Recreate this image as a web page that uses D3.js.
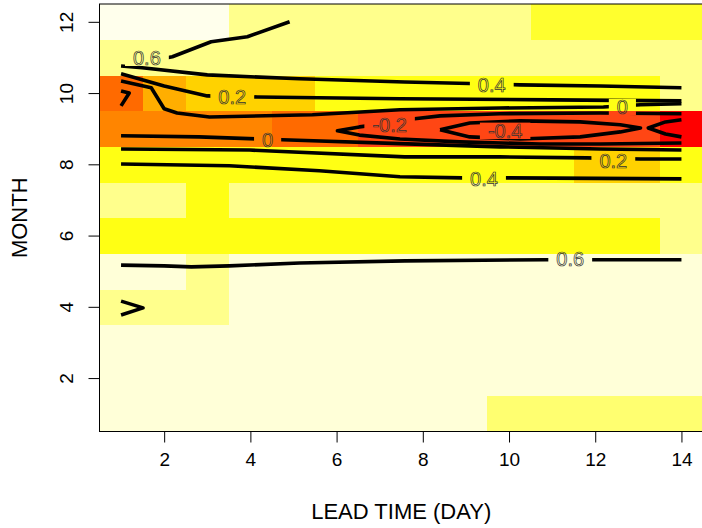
<!DOCTYPE html>
<html><head><meta charset="utf-8">
<script src="https://cdn.jsdelivr.net/npm/d3@7"></script>
<style>body{margin:0;background:#fff}svg{display:block}</style>
</head><body>
<svg id="c" width="702" height="528"></svg>
<script>
// ---------------- data ----------------
const leads  = [1,2,3,4,5,6,7,8,9,10,11,12,13,14];   // LEAD TIME (DAY)
const months = [1,2,3,4,5,6,7,8,9,10,11,12];         // MONTH
// cell values, one row per month (1..12), one column per lead day (1..14)
const zValues = [
  [0.74,0.75,0.76,0.75,0.74,0.75,0.76,0.75,0.74,0.56,0.55,0.57,0.56,0.55],
  [0.75,0.76,0.75,0.74,0.75,0.76,0.75,0.74,0.75,0.76,0.75,0.74,0.75,0.76],
  [0.76,0.75,0.74,0.75,0.76,0.75,0.74,0.75,0.76,0.75,0.74,0.75,0.76,0.75],
  [0.64,0.65,0.66,0.75,0.74,0.75,0.76,0.75,0.74,0.75,0.76,0.75,0.74,0.75],
  [0.74,0.75,0.65,0.76,0.75,0.74,0.75,0.76,0.75,0.74,0.75,0.76,0.75,0.74],
  [0.36,0.35,0.34,0.35,0.36,0.35,0.34,0.35,0.36,0.35,0.34,0.35,0.36,0.64],
  [0.65,0.66,0.36,0.65,0.64,0.65,0.66,0.65,0.64,0.65,0.66,0.65,0.64,0.65],
  [0.38,0.37,0.36,0.35,0.34,0.33,0.33,0.32,0.32,0.31,0.31,0.26,0.27,0.32],
  [-0.04,-0.05,-0.06,-0.07,-0.14,-0.16,-0.24,-0.26,-0.27,-0.28,-0.27,-0.26,-0.27,-0.45],
  [-0.15,0.05,0.24,0.25,0.26,0.32,0.33,0.34,0.35,0.36,0.36,0.37,0.37,0.64],
  [0.62,0.63,0.64,0.65,0.65,0.65,0.66,0.66,0.65,0.65,0.64,0.65,0.65,0.64],
  [0.84,0.85,0.86,0.65,0.64,0.65,0.66,0.65,0.64,0.65,0.46,0.45,0.44,0.45]
];
const colorBreaks = [-0.4,-0.3,-0.2,-0.1,0,0.1,0.2,0.3,0.4,0.5,0.6,0.7,0.8];
const colorRange  = ["#FF0000","#FF2400","#FF4614","#FF6A00","#FF8500","#FFAE00","#FFC400",
                     "#FFD200","#FFFF14","#FFFF2E","#FFFF70","#FFFF8C","#FFFFD8","#FFFFEC"];

// contour lines: [lead, month] points
const contour06a = [[1.95,10.96],[2.19,11.02],[3.09,11.44],[3.93,11.58],[4.91,12.0]];
const contour04a = [[1,10.76],[1.49,10.71],[3.0,10.51],[5.14,10.40],[7.58,10.31],[9.33,10.26],[10.26,10.23],[12.12,10.20],[14,10.15]];
const contour02a = [[1,10.54],[2.0,10.20],[3.0,9.92],[4.16,9.89],[7.47,9.84],[11.0,9.81],[14,9.78]];
const contour00a = [[1,10.34],[1.70,10.15],[2.0,9.56],[2.30,9.44],[3.05,9.33],[5.44,9.39],[7.47,9.53],[9.79,9.58],[12.19,9.61],[13.05,9.67],[14,9.70]];
const contourM02a = [[1,10.06],[1.19,10.0],[1,9.64]];
const contourM02b = [[14,9.42],[12.12,9.44],[9.79,9.42],[8.40,9.36],[7.81,9.28],[7.23,9.16],[6.53,9.05],[6.02,8.94],[6.53,8.82],[7.47,8.71],[8.86,8.63],[10.72,8.57],[12.12,8.57],[14,8.60]];
const contourM04a = [[8.40,8.97],[9.09,9.16],[10.26,9.22],[11.65,9.19],[12.58,9.11],[13.05,9.02],[12.58,8.91],[11.65,8.77],[10.26,8.71],[9.09,8.77],[8.40,8.97]];
const contourM04b = [[14,9.25],[13.63,9.19],[13.23,9.02],[13.63,8.85],[14,8.77]];
const contour00b = [[1,8.80],[2.81,8.77],[4.74,8.69],[7.47,8.58],[9.79,8.49],[12.12,8.43],[14,8.40]];
const contour02b = [[1,8.43],[3.98,8.40],[7.58,8.21],[9.79,8.21],[11.81,8.18],[13.05,8.15],[14,8.15]];
const contour04b = [[1,8.01],[3.51,7.96],[5.60,7.82],[7.47,7.65],[8.91,7.62],[10.02,7.62],[14,7.59]];
const contour06b = [[1,5.17],[2.0,5.15],[2.63,5.12],[3.51,5.15],[5.14,5.23],[7.58,5.29],[10.84,5.32],[14,5.32]];
const contour06c = [[1,4.16],[1.51,3.97],[1,3.77]];
const contourLines = [contour06a,contour04a,contour02a,contour00a,contourM02a,contourM02b,
                      contourM04a,contourM04b,contour00b,contour02b,contour04b,contour06b,contour06c];
// contour labels: [text, lead, month]
const contourLabels = [["0.6",1.60,10.99],["0.4",9.60,10.23],["0.2",3.58,9.89],["0",12.63,9.61],
  ["-0.2",7.23,9.11],["-0.4",9.91,8.94],["0",4.40,8.69],["0.2",12.42,8.10],["0.4",9.42,7.59],["0.6",11.42,5.34]];

const xTicks = [2,4,6,8,10,12,14];
const yTicks = [2,4,6,8,10,12];
const xTitle = "LEAD TIME (DAY)";
const yTitle = "MONTH";

// ---------------- drawing ----------------
const svg = d3.select("#c");
const x = d3.scaleLinear().domain([0.5,14.5]).range([99.5,703]);
const y = d3.scaleLinear().domain([0.5,12.5]).range([431.5,4]);
const color = d3.scaleThreshold().domain(colorBreaks).range(colorRange);

const cells = [];
months.forEach((m,i)=>leads.forEach((l,j)=>cells.push({l,m,v:zValues[i][j]})));
svg.append("g").selectAll("rect").data(cells).join("rect")
  .attr("x",d=>x(d.l-0.5)).attr("y",d=>y(d.m+0.5))
  .attr("width",d=>x(d.l+0.5)-x(d.l-0.5)+0.5).attr("height",d=>y(d.m-0.5)-y(d.m+0.5)+0.5)
  .attr("fill",d=>color(d.v)).attr("shape-rendering","crispEdges");

const defs = svg.append("defs");
const mask = defs.append("mask").attr("id","lblmask").attr("maskUnits","userSpaceOnUse")
  .attr("x",0).attr("y",0).attr("width",702).attr("height",528);
mask.append("rect").attr("x",0).attr("y",0).attr("width",702).attr("height",528).attr("fill","#fff");

const line = d3.line().x(d=>x(d[0])).y(d=>y(d[1]));
svg.append("g").attr("mask","url(#lblmask)").selectAll("path").data(contourLines).join("path")
  .attr("d",line).attr("fill","none").attr("stroke","#000").attr("stroke-width",3.6)
  .attr("stroke-linejoin","round");

const lblSize = 20;
const lbl = svg.append("g").selectAll("text").data(contourLabels).join("text")
  .attr("x",d=>x(d[1])).attr("y",d=>y(d[2]))
  .attr("text-anchor","middle").attr("dominant-baseline","central")
  .style("font-family","'Liberation Sans',Arial,sans-serif").style("font-size",lblSize+"px")
  .attr("fill","none").attr("stroke","#333").attr("stroke-width",0.7)
  .text(d=>d[0]);
lbl.each(function(d){
  const b=this.getBBox();
  const h=lblSize*0.72+2;
  mask.append("rect").attr("x",b.x-8).attr("y",y(d[2])-h/2).attr("width",b.width+16).attr("height",h).attr("fill","#000");
});

// box
svg.append("rect").attr("x",x(0.5)).attr("y",y(12.5)).attr("width",x(14.5)-x(0.5)).attr("height",y(0.5)-y(12.5))
  .attr("fill","none").attr("stroke","#000").attr("stroke-width",1);

const font="'Liberation Sans',Arial,sans-serif";
const gx = svg.append("g").attr("transform",`translate(0,${y(0.5)})`)
  .call(d3.axisBottom(x).tickValues(xTicks).tickSize(11).tickPadding(10).tickFormat(d3.format("d")));
gx.select(".domain").remove();
gx.selectAll("text").style("font-family",font).style("font-size","19px").attr("fill","#000");
gx.selectAll("line").attr("stroke","#000");

const gy = svg.append("g").attr("transform",`translate(${x(0.5)},0)`)
  .call(d3.axisLeft(y).tickValues(yTicks).tickSize(11).tickFormat(d3.format("d")));
gy.select(".domain").remove();
gy.selectAll("line").attr("stroke","#000");
gy.selectAll("text").attr("x",null).attr("dy",null)
  .attr("transform","translate(-27,0) rotate(-90)").attr("text-anchor","middle")
  .style("font-family",font).style("font-size","19px").attr("fill","#000");

svg.append("text").attr("x",(x(0.5)+x(14.5))/2).attr("y",519).attr("text-anchor","middle")
  .style("font-family",font).style("font-size","22px").attr("fill","#000").text(xTitle);
svg.append("text").attr("transform",`translate(27,${(y(0.5)+y(12.5))/2}) rotate(-90)`).attr("text-anchor","middle")
  .style("font-family",font).style("font-size","22px").attr("fill","#000").text(yTitle);
</script>
</body></html>
